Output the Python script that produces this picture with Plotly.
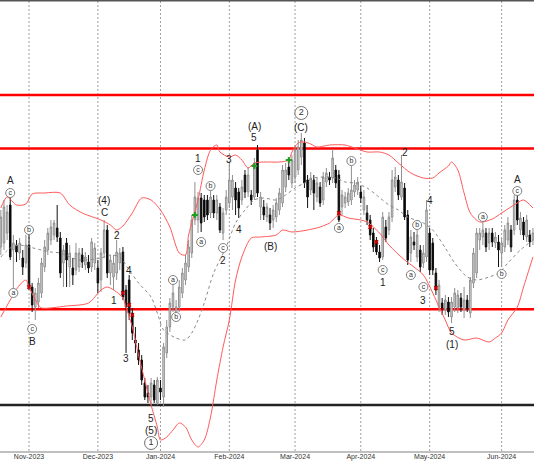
import plotly.graph_objects as go
import pandas as pd

# ---------------- data ----------------
holidays = ["2023-12-25", "2024-01-01"]
trading_days = pd.bdate_range("2023-10-19", "2024-06-17")
dates = [d.strftime("%Y-%m-%d") for d in trading_days if d.strftime("%Y-%m-%d") not in holidays]

opens = [25.3, 25.7, 26.7, 29.5, 25.0, 25.5, 24.7, 24.2, 23.7, 25.5,
         21.3, 19.3, 19.8, 20.7, 23.3, 25.0, 26.0, 26.5, 27.2, 26.2,
         23.7, 25.7, 23.3, 23.2, 23.0, 23.3, 24.5, 23.5, 23.8, 23.3,
         23.7, 23.2, 22.0, 24.7, 27.0, 22.7, 22.3, 22.7, 23.7, 24.8,
         21.0, 22.0, 18.7, 16.0, 15.0, 14.0, 11.7, 10.7, 10.3, 11.5,
         9.7, 11.2, 10.3, 14.7, 17.3, 19.3, 18.7, 19.3, 20.7, 22.0,
         23.3, 24.7, 28.0, 28.0, 30.2, 30.0, 30.0, 28.7, 30.0, 28.7,
         29.3, 26.7, 29.0, 29.7, 30.3, 31.2, 30.8, 30.0, 32.5, 30.8,
         30.5, 30.3, 35.0, 29.3, 29.3, 28.3, 28.5, 28.0, 28.3, 29.0,
         29.7, 31.3, 33.3, 31.7, 32.3, 33.0, 34.3, 35.7, 32.0, 31.0,
         32.0, 30.3, 31.3, 30.0, 31.8, 32.3, 32.2, 33.0, 32.5, 29.3,
         29.7, 29.8, 30.0, 30.8, 31.0, 30.8, 29.0, 28.7, 28.0, 26.7,
         25.8, 24.8, 24.3, 27.3, 27.0, 28.3, 31.3, 32.0, 30.3, 31.2,
         28.5, 24.7, 25.8, 24.3, 25.0, 23.7, 24.3, 26.7, 25.7, 22.7,
         19.3, 19.7, 19.0, 19.8, 18.3, 19.3, 19.2, 20.2, 19.0, 20.0,
         18.7, 21.7, 22.7, 26.0, 26.3, 26.7, 25.7, 26.7, 25.7, 25.8,
         24.7, 25.3, 26.0, 27.0, 27.0, 30.0, 27.0, 27.8, 26.3, 26.5,
         26.0]

highs = [29.0, 30.0, 29.5, 30.4, 26.5, 26.0, 26.2, 25.0, 26.5, 26.5,
         21.7, 21.2, 22.2, 24.2, 26.0, 27.2, 28.0, 28.0, 29.5, 26.8,
         25.5, 26.2, 25.5, 24.2, 25.7, 25.2, 25.2, 24.8, 24.5, 26.2,
         25.7, 24.0, 25.2, 28.0, 27.5, 24.5, 24.5, 26.0, 25.2, 25.3,
         21.5, 22.5, 19.2, 17.3, 15.7, 14.5, 12.2, 11.5, 12.2, 12.0,
         12.3, 12.0, 15.7, 18.0, 20.2, 21.5, 20.0, 22.0, 23.2, 24.5,
         26.0, 28.5, 31.8, 30.8, 30.7, 30.5, 30.5, 31.0, 30.5, 30.5,
         29.7, 29.2, 31.0, 33.7, 32.5, 31.8, 31.2, 32.0, 33.0, 33.3,
         31.0, 34.2, 35.5, 30.8, 30.0, 29.7, 29.2, 29.5, 30.2, 31.2,
         33.5, 33.7, 34.2, 34.5, 35.5, 36.0, 36.7, 36.2, 32.5, 32.8,
         32.5, 32.2, 31.8, 32.8, 33.2, 32.8, 35.1, 33.5, 33.0, 31.0,
         30.8, 31.2, 33.4, 32.0, 32.3, 31.4, 31.0, 29.5, 28.5, 27.2,
         26.3, 25.5, 28.8, 28.0, 28.8, 33.0, 33.3, 32.5, 34.5, 31.7,
         29.0, 27.0, 26.8, 27.0, 25.5, 25.5, 30.0, 27.2, 26.2, 23.2,
         22.0, 20.2, 20.5, 20.3, 20.3, 21.2, 21.0, 20.7, 21.3, 20.5,
         22.3, 25.2, 27.2, 27.2, 27.8, 27.2, 27.2, 27.2, 26.8, 26.5,
         26.2, 27.5, 28.3, 27.5, 30.5, 30.5, 28.8, 28.3, 28.5, 27.0,
         27.2]

lows = [24.5, 25.0, 26.0, 24.0, 21.0, 23.8, 24.0, 22.5, 23.2, 21.0,
        18.8, 18.0, 19.2, 20.2, 22.8, 24.5, 25.5, 26.0, 25.8, 22.2,
        21.3, 21.3, 21.3, 21.5, 22.5, 22.8, 23.2, 23.0, 22.7, 22.8,
        23.0, 20.7, 20.8, 24.2, 22.2, 21.5, 21.0, 22.0, 23.0, 20.0,
        14.7, 18.0, 16.0, 14.7, 13.5, 11.5, 10.0, 9.7, 9.5, 9.7,
        9.5, 10.0, 9.3, 14.2, 16.8, 18.8, 18.2, 18.8, 20.2, 21.5,
        22.8, 24.2, 27.5, 26.7, 26.8, 27.8, 28.0, 28.2, 28.2, 28.0,
        26.7, 26.0, 28.5, 29.2, 29.0, 28.5, 28.2, 29.5, 30.2, 30.3,
        29.5, 30.0, 30.3, 28.0, 28.0, 27.8, 27.0, 27.2, 27.8, 28.5,
        29.3, 30.8, 32.0, 31.2, 31.7, 32.5, 33.5, 31.2, 29.2, 30.5,
        29.0, 29.8, 29.3, 29.5, 31.3, 31.5, 31.7, 31.2, 27.8, 28.5,
        29.2, 29.4, 29.5, 30.3, 30.5, 29.7, 28.5, 27.5, 26.0, 24.8,
        24.5, 23.8, 24.0, 25.8, 26.5, 27.8, 30.8, 30.0, 30.0, 28.0,
        23.5, 23.8, 25.0, 23.8, 22.8, 23.2, 23.8, 22.5, 22.5, 20.5,
        18.8, 18.5, 18.5, 18.3, 17.7, 18.8, 18.7, 18.8, 18.2, 18.8,
        18.2, 21.2, 22.2, 25.0, 25.5, 24.8, 25.0, 25.3, 25.2, 23.3,
        23.3, 24.8, 25.5, 24.8, 26.5, 27.5, 26.5, 26.0, 25.8, 25.3,
        25.5]

closes = [28.3, 29.3, 28.8, 24.3, 25.7, 24.8, 25.7, 23.3, 25.5, 21.3,
          19.5, 20.7, 21.7, 23.7, 25.3, 26.7, 27.3, 27.7, 26.3, 22.7,
          25.0, 24.0, 24.7, 22.5, 24.7, 24.7, 23.8, 24.3, 23.2, 25.8,
          25.2, 21.7, 24.7, 27.0, 22.7, 24.0, 23.7, 24.8, 24.7, 20.3,
          19.3, 18.7, 16.7, 15.7, 14.0, 12.0, 10.3, 10.3, 11.7, 10.0,
          12.0, 10.8, 15.3, 17.3, 19.7, 20.7, 19.3, 21.3, 22.7, 23.7,
          25.3, 28.0, 30.3, 30.2, 27.7, 28.3, 28.5, 30.3, 28.7, 30.0,
          27.0, 28.7, 30.3, 32.0, 32.0, 30.0, 29.2, 31.3, 30.8, 32.5,
          30.0, 33.7, 30.7, 30.3, 28.5, 29.3, 27.7, 29.0, 29.7, 30.7,
          33.0, 33.0, 32.5, 34.0, 35.0, 35.3, 36.0, 31.7, 30.3, 32.2,
          30.7, 31.7, 29.7, 32.3, 32.7, 32.0, 34.2, 31.7, 28.0, 30.5,
          30.3, 30.7, 31.0, 31.5, 31.8, 30.2, 30.3, 28.0, 26.5, 25.3,
          24.8, 24.2, 28.3, 26.2, 28.3, 32.0, 32.3, 30.5, 31.8, 28.3,
          24.0, 26.3, 25.5, 26.5, 23.3, 24.7, 29.0, 23.0, 23.0, 21.0,
          21.5, 19.2, 20.0, 18.8, 19.8, 20.7, 20.5, 19.3, 20.0, 19.2,
          22.0, 24.7, 26.7, 26.7, 27.0, 25.3, 26.7, 25.8, 26.3, 25.0,
          25.7, 27.0, 27.7, 25.3, 30.0, 28.0, 28.2, 26.5, 28.0, 25.8,
          26.7]

# Bollinger band readings
upper_dates = ["2023-10-19", "2023-10-23", "2023-10-26", "2023-10-31", "2023-11-02", "2023-11-08",
               "2023-11-15", "2023-11-20", "2023-11-24", "2023-12-04", "2023-12-07", "2023-12-11",
               "2023-12-13", "2023-12-18", "2023-12-21", "2023-12-27", "2024-01-02", "2024-01-05",
               "2024-01-10", "2024-01-12", "2024-01-15", "2024-01-18", "2024-01-22", "2024-01-24",
               "2024-01-26", "2024-01-29", "2024-02-01", "2024-02-05", "2024-02-07", "2024-02-09",
               "2024-02-13", "2024-02-16", "2024-02-23", "2024-02-28", "2024-02-29", "2024-03-04",
               "2024-03-06", "2024-03-08", "2024-03-12", "2024-03-18", "2024-03-25", "2024-03-28",
               "2024-04-03", "2024-04-09", "2024-04-12", "2024-04-17", "2024-04-23", "2024-04-29",
               "2024-05-02", "2024-05-06", "2024-05-09", "2024-05-10", "2024-05-14", "2024-05-16",
               "2024-05-20", "2024-05-23", "2024-05-29", "2024-06-03", "2024-06-10", "2024-06-12",
               "2024-06-17"]
upper_vals = [29.2, 30.3, 29.5, 29.6, 30.6, 30.7,
              30.7, 29.5, 28.7, 28.0, 27.5, 27.0,
              27.4, 28.7, 30.2, 30.0, 29.0, 27.3,
              24.7, 24.5, 26.5, 30.0, 33.0, 35.0,
              35.5, 34.8, 34.3, 34.5, 34.0, 33.2,
              33.7, 33.8, 33.8, 34.0, 34.8, 35.7,
              35.8, 35.6, 35.3, 35.5, 35.5, 35.2,
              34.8, 34.8, 34.5, 33.7, 32.7, 32.2,
              32.2, 32.7, 33.4, 33.8, 33.0, 30.7,
              28.7, 27.8, 28.1, 28.7, 29.7, 30.0,
              29.2]

lower_dates = ["2023-10-19", "2023-10-24", "2023-10-27", "2023-10-31", "2023-11-01", "2023-11-06",
               "2023-11-07", "2023-11-17", "2023-11-28", "2023-12-04", "2023-12-06", "2023-12-11",
               "2023-12-13", "2023-12-14", "2023-12-18", "2023-12-20", "2023-12-26", "2023-12-27",
               "2023-12-29", "2024-01-02", "2024-01-04", "2024-01-08", "2024-01-10", "2024-01-12",
               "2024-01-16", "2024-01-18", "2024-01-22", "2024-01-24", "2024-01-26", "2024-01-30",
               "2024-02-01", "2024-02-05", "2024-02-07", "2024-02-12", "2024-02-15", "2024-02-22",
               "2024-02-26", "2024-02-29", "2024-03-07", "2024-03-13", "2024-03-18", "2024-03-21",
               "2024-03-26", "2024-04-01", "2024-04-03", "2024-04-09", "2024-04-12", "2024-04-19",
               "2024-04-24", "2024-04-29", "2024-05-02", "2024-05-06", "2024-05-08", "2024-05-10",
               "2024-05-16", "2024-05-22", "2024-05-28", "2024-05-30", "2024-06-03", "2024-06-05",
               "2024-06-10", "2024-06-12", "2024-06-14", "2024-06-17"]
lower_vals = [18.3, 20.0, 21.5, 22.0, 21.3, 19.5,
              19.2, 19.4, 19.7, 21.0, 21.3, 20.8,
              20.2, 19.3, 17.3, 14.5, 10.7, 9.5,
              7.3, 6.0, 6.3, 7.0, 7.7, 7.3,
              6.0, 5.3, 6.0, 8.3, 12.0, 15.3,
              18.0, 22.0, 24.3, 26.2, 26.3, 26.5,
              27.0, 26.8, 27.0, 27.3, 27.7, 28.5,
              28.2, 28.0, 27.8, 26.7, 25.5, 24.0,
              23.3, 22.5, 20.7, 19.3, 18.0, 16.7,
              16.0, 16.2, 15.8, 16.2, 16.7, 18.0,
              19.3, 21.3, 23.3, 24.3]

middle_dates = ["2023-10-19", "2023-10-24", "2023-10-27", "2023-11-01", "2023-11-07", "2023-11-10",
                "2023-11-15", "2023-11-23", "2023-12-04", "2023-12-07", "2023-12-12", "2023-12-15",
                "2023-12-20", "2023-12-27", "2023-12-29", "2024-01-03", "2024-01-09", "2024-01-12",
                "2024-01-16", "2024-01-18", "2024-01-22", "2024-01-25", "2024-01-31", "2024-02-05",
                "2024-02-08", "2024-02-13", "2024-02-16", "2024-02-22", "2024-02-27", "2024-03-01",
                "2024-03-06", "2024-03-11", "2024-03-15", "2024-03-20", "2024-03-25", "2024-03-28",
                "2024-04-03", "2024-04-08", "2024-04-12", "2024-04-17", "2024-04-22", "2024-04-29",
                "2024-05-02", "2024-05-08", "2024-05-13", "2024-05-17", "2024-05-22", "2024-05-28",
                "2024-05-31", "2024-06-05", "2024-06-11", "2024-06-17"]
middle_vals = [24.3, 25.2, 25.5, 25.3, 25.0, 24.8,
               24.7, 24.0, 24.2, 24.5, 24.3, 23.0,
               21.7, 20.3, 18.7, 17.0, 16.2, 16.0,
               16.7, 18.0, 19.7, 22.7, 25.3, 27.7,
               29.0, 30.0, 30.2, 30.0, 30.5, 31.2,
               31.7, 32.2, 32.3, 32.2, 31.8, 31.7,
               31.2, 30.5, 29.5, 29.0, 28.3, 27.7,
               27.0, 25.2, 23.7, 22.3, 22.0, 22.3,
               22.7, 23.7, 25.0, 26.0]

# band touch markers
touch_up_dates = ["2024-01-17", "2024-02-13", "2024-02-28"]
touch_up_vals = [28.5, 33.4, 34.0]
touch_dn_dates = ["2023-11-01", "2023-12-13", "2023-12-15", "2023-12-18", "2024-03-21", "2024-04-04",
                  "2024-04-08", "2024-05-03"]
touch_dn_vals = [21.3, 20.7, 19.5, 18.5, 28.7, 27.3, 25.8, 21.2]

# horizontal levels
red_levels = [40.5, 35.15, 19.07]
black_levels = [9.5]

# wave labels
wave_dates = ["2023-10-24", "2023-11-02", "2023-12-05", "2023-12-05", "2023-12-11", "2023-12-08",
              "2023-12-15", "2023-12-14", "2023-12-27", "2023-12-27", "2024-01-18", "2024-01-30",
              "2024-02-01", "2024-02-06", "2024-02-13", "2024-02-13", "2024-02-20", "2024-03-05",
              "2024-04-10", "2024-04-19", "2024-04-29", "2024-05-01", "2024-05-10", "2024-05-10",
              "2024-06-10"]
wave_vals = [32.0, 15.9, 30.0, 28.8, 26.5, 20.0,
             23.0, 14.2, 8.2, 7.0, 34.2, 24.0,
             34.1, 27.1, 37.4, 36.3, 25.4, 37.3,
             21.8, 34.8, 20.0, 30.0, 16.9, 15.6,
             32.1]
wave_texts = ["A", "B", "(4)", "C", "2", "1",
              "4", "3", "5", "(5)", "1", "2",
              "3", "4", "(A)", "5", "(B)", "(C)",
              "1", "2", "3", "4", "5", "(1)",
              "A"]

sub_dates = ["2023-10-24", "2023-10-25", "2023-11-01", "2023-11-02", "2024-01-08", "2024-01-09",
             "2024-01-18", "2024-01-19", "2024-01-24", "2024-01-30", "2024-03-21", "2024-03-27",
             "2024-04-10", "2024-04-23", "2024-04-25", "2024-04-29", "2024-05-24", "2024-06-03",
             "2024-06-10"]
sub_vals = [30.7, 20.7, 27.0, 17.1, 22.0, 18.3,
            33.0, 25.8, 31.4, 25.2, 27.2, 33.9,
            23.0, 22.5, 27.5, 21.3, 28.3, 22.6,
            30.9]
sub_texts = ["c", "a", "b", "c", "a", "b",
             "c", "a", "b", "c", "a", "b",
             "c", "a", "b", "c", "a", "b",
             "c"]

circ_dates = ["2023-12-27", "2024-03-05"]
circ_vals = [5.7, 38.7]
circ_texts = ["1", "2"]

tick_dates = ["2023-11-01", "2023-12-01", "2024-01-02", "2024-02-01",
              "2024-03-01", "2024-04-01", "2024-05-01", "2024-06-03"]
tick_labels = ["Nov-2023", "Dec-2023", "Jan-2024", "Feb-2024",
               "Mar-2024", "Apr-2024", "May-2024", "Jun-2024"]

# ---------------- figure ----------------
FONT = "Liberation Sans, Arial, sans-serif"
fig = go.Figure()

fig.add_trace(go.Candlestick(
    x=dates, open=opens, high=highs, low=lows, close=closes,
    increasing=dict(line=dict(color="#8f8f8f", width=1), fillcolor="#dcdcdc"),
    decreasing=dict(line=dict(color="#111111", width=1), fillcolor="#000000"),
    whiskerwidth=0, showlegend=False, hoverinfo="skip"))

fig.add_trace(go.Scatter(x=middle_dates, y=middle_vals, mode="lines",
                         line=dict(color="#8a8a8a", width=1, dash="dot", shape="spline", smoothing=0.8),
                         hoverinfo="skip", showlegend=False))
fig.add_trace(go.Scatter(x=upper_dates, y=upper_vals, mode="lines",
                         line=dict(color="#ff5a5a", width=1, shape="spline", smoothing=0.8),
                         hoverinfo="skip", showlegend=False))
fig.add_trace(go.Scatter(x=lower_dates, y=lower_vals, mode="lines",
                         line=dict(color="#ff5a5a", width=1, shape="spline", smoothing=0.8),
                         hoverinfo="skip", showlegend=False))

fig.add_trace(go.Scatter(x=touch_up_dates, y=touch_up_vals, mode="markers",
                         marker=dict(symbol="cross", size=5, color="#1f9e1f"),
                         hoverinfo="skip", showlegend=False))
fig.add_trace(go.Scatter(x=touch_dn_dates, y=touch_dn_vals, mode="markers",
                         marker=dict(symbol="x", size=4, color="#cc0000"),
                         hoverinfo="skip", showlegend=False))

fig.add_trace(go.Scatter(x=sub_dates, y=sub_vals, mode="markers+text", text=sub_texts,
                         textposition="middle center",
                         textfont=dict(family=FONT, size=7, color="#333333"),
                         marker=dict(symbol="circle", size=9, color="white",
                                     line=dict(color="#808080", width=1)),
                         hoverinfo="skip", showlegend=False))
fig.add_trace(go.Scatter(x=circ_dates, y=circ_vals, mode="markers+text", text=circ_texts,
                         textposition="middle center",
                         textfont=dict(family=FONT, size=9, color="#333333"),
                         marker=dict(symbol="circle", size=13, color="white",
                                     line=dict(color="#707070", width=1)),
                         hoverinfo="skip", showlegend=False))

for d, v, t in zip(wave_dates, wave_vals, wave_texts):
    fig.add_annotation(x=d, y=v, text=t, showarrow=False, xref="x", yref="y",
                       font=dict(family=FONT, size=10, color="#222222"))

# month separators (dashed)
for d in tick_dates:
    fig.add_shape(type="line", xref="x", yref="paper", x0=d, x1=d, y0=0, y1=1,
                  line=dict(color="#a0a0a0", width=1, dash="2px,2px"), layer="below")

for lv in red_levels:
    fig.add_shape(type="line", xref="paper", x0=0, x1=1, yref="y", y0=lv, y1=lv,
                  line=dict(color="#ff0000", width=2.5), layer="below")
for lv in black_levels:
    fig.add_shape(type="line", xref="paper", x0=0, x1=1, yref="y", y0=lv, y1=lv,
                  line=dict(color="#222222", width=2.5), layer="below")

fig.add_shape(type="line", xref="paper", yref="paper", x0=0, x1=1, y0=1, y1=1,
              line=dict(color="#555555", width=3))

fig.update_layout(
    width=534, height=462,
    margin=dict(l=0, r=0, t=0, b=11, pad=0),
    paper_bgcolor="white", plot_bgcolor="white",
    showlegend=False,
    xaxis=dict(type="category", categoryorder="array", categoryarray=dates,
               range=[-0.27, 170.34], tickmode="array",
               tickvals=tick_dates, ticktext=tick_labels,
               tickfont=dict(family=FONT, size=7, color="#333333"),
               ticks="", ticklabelstandoff=-2, showgrid=False,
               showline=True, linecolor="#c0c0c0", linewidth=2, zeroline=False,
               rangeslider=dict(visible=False), automargin=False, fixedrange=True),
    yaxis=dict(visible=False, range=[4.9, 50], showgrid=False, zeroline=False,
               fixedrange=True),
)

fig.write_html("out.html", config={"displayModeBar": False, "staticPlot": True},
               post_script="document.body.style.margin='0px';document.body.style.overflow='hidden';")
